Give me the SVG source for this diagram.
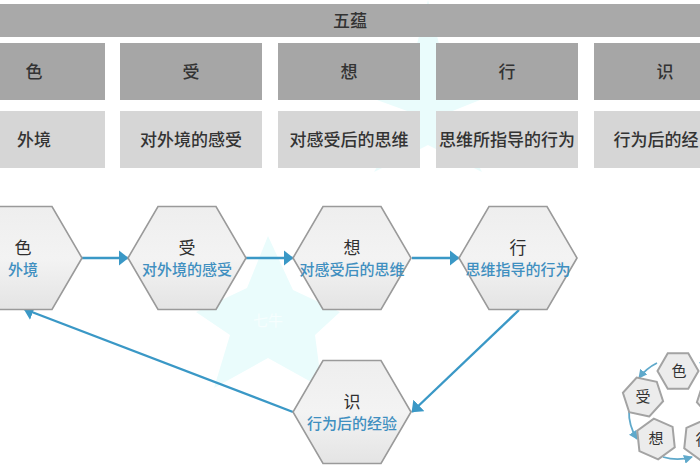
<svg xmlns="http://www.w3.org/2000/svg" width="700" height="470" viewBox="0 0 700 470">
<style>
text{font-family:"Noto Sans CJK SC","Liberation Sans",sans-serif;text-anchor:middle}
.bar{fill:#a9a9a9}
.head{fill:#a6a6a6}
.sub{fill:#d6d6d6}
.t{font-size:17px;font-weight:500;fill:#333}
.hex{fill:url(#g);stroke:#9a9a9a;stroke-width:1.6}
.hs{fill:#ececec;stroke:#a3a3a3;stroke-width:2}
.n{font-size:17px;fill:#2f2f2f}
.d{font-size:15px;font-weight:500;fill:#3f8fc0}
.c{font-size:15px;fill:#333}
.l{fill:none;stroke:#3a98c6;stroke-width:2.4}
.a{fill:none;stroke:#5fa9cb;stroke-width:1.8}
.star{fill:#eafcfc}
.w{font-size:15px;fill:#f6fefe}
</style>
<defs>
<linearGradient id="g" x1="0" y1="0" x2="0" y2="1"><stop offset="0" stop-color="#eeeeee"/><stop offset="0.5" stop-color="#f3f3f3"/><stop offset="1" stop-color="#e4e4e4"/></linearGradient>
<marker id="ah" viewBox="0 0 10 16" markerUnits="userSpaceOnUse" markerWidth="10" markerHeight="16" refX="9.5" refY="8" orient="auto"><path d="M0 0L10 8L0 16Z" fill="#3a98c6"/></marker>
<marker id="as" viewBox="0 0 9 9" markerUnits="userSpaceOnUse" markerWidth="9" markerHeight="9" refX="8" refY="4.5" orient="auto"><path d="M0 0L9 4.5L0 9Z" fill="#5fa9cb"/></marker>
<polygon id="h" points="59,0 29,51.5 -29,51.5 -59,0 -29,-51.5 29,-51.5"/>
<polygon id="s" points="20.5,0 10.25,17.8 -10.25,17.8 -20.5,0 -10.25,-17.8 10.25,-17.8"/>
</defs>
<g id="watermarks">
<polygon class="star" points="268,236 293,290 340,312 315,335 322,388 268,358 214,388 230,335 196,312 247,288"/>
<text class="w" x="268" y="326">七牛</text>
<polygon class="star" points="428,0 448,80 490,96 450,112 482,172 428,145 374,172 410,112 366,96 408,80"/>
</g>
<g id="table">
<rect class="bar" x="0" y="4" width="700" height="33"/>
<text class="t" x="350" y="27">五蕴</text>
<g id="col1"><rect class="head" x="0" y="43" width="105" height="57"/><text class="t" x="34" y="78">色</text><rect class="sub" x="0" y="111" width="105" height="57"/><text class="t" x="34" y="146">外境</text></g>
<g id="col2"><rect class="head" x="120" y="43" width="142" height="57"/><text class="t" x="191" y="78">受</text><rect class="sub" x="120" y="111" width="142" height="57"/><text class="t" x="191" y="146">对外境的感受</text></g>
<g id="col3"><rect class="head" x="278" y="43" width="142" height="57"/><text class="t" x="349" y="78">想</text><rect class="sub" x="278" y="111" width="142" height="57"/><text class="t" x="349" y="146">对感受后的思维</text></g>
<g id="col4"><rect class="head" x="436" y="43" width="142" height="57"/><text class="t" x="507" y="78">行</text><rect class="sub" x="436" y="111" width="142" height="57"/><text class="t" x="507" y="146">思维所指导的行为</text></g>
<g id="col5"><rect class="head" x="594" y="43" width="106" height="57"/><text class="t" x="665" y="78">识</text><rect class="sub" x="594" y="111" width="106" height="57"/><text class="t" x="656" y="146">行为后的经</text></g>
</g>
<g id="connectors">
<line class="l" x1="82" y1="258" x2="128" y2="258" marker-end="url(#ah)"/>
<line class="l" x1="246" y1="258" x2="293" y2="258" marker-end="url(#ah)"/>
<line class="l" x1="412" y1="258" x2="459" y2="258" marker-end="url(#ah)"/>
<line class="l" x1="519" y1="310" x2="412" y2="412" marker-end="url(#ah)"/>
<line class="l" x1="293" y1="412" x2="24" y2="309" marker-end="url(#ah)"/>
</g>
<g id="cycle-connectors">
<path class="a" d="M720 379A50 50 0 0 0 700 362.500" marker-end="url(#as)"/>
<path class="a" d="M657 363A50 50 0 0 0 639 378" marker-end="url(#as)"/>
<path class="a" d="M629 410A50 50 0 0 0 637 439" marker-end="url(#as)"/>
<path class="a" d="M663 457A50 50 0 0 0 692 457" marker-end="url(#as)"/>
</g>
<g id="n-se"><use href="#h" class="hex" transform="translate(23,258)"/><text class="n" x="23" y="254">色</text><text class="d" x="23" y="275">外境</text></g>
<g id="n-shou"><use href="#h" class="hex" transform="translate(187,258)"/><text class="n" x="187" y="254">受</text><text class="d" x="187" y="275">对外境的感受</text></g>
<g id="n-xiang"><use href="#h" class="hex" transform="translate(352,258)"/><text class="n" x="352" y="254">想</text><text class="d" x="352" y="275">对感受后的思维</text></g>
<g id="n-xing"><use href="#h" class="hex" transform="translate(518,258)"/><text class="n" x="518" y="254">行</text><text class="d" x="518" y="275">思维指导的行为</text></g>
<g id="n-shi"><use href="#h" class="hex" transform="translate(352,412)"/><text class="n" x="352" y="408">识</text><text class="d" x="352" y="429">行为后的经验</text></g>
<g id="c-se"><use href="#s" class="hs" transform="translate(678,371)"/><text class="c" x="679" y="376">色</text></g>
<g id="c-shou"><use href="#s" class="hs" transform="translate(643,397) rotate(72)"/><text class="c" x="643" y="402">受</text></g>
<g id="c-xiang"><use href="#s" class="hs" transform="translate(656,439) rotate(144)"/><text class="c" x="656" y="444">想</text></g>
<g id="c-xing"><use href="#s" class="hs" transform="translate(703,440) rotate(216)"/><text class="c" x="703" y="445">行</text></g>
<g id="c-shi"><use href="#s" class="hs" transform="translate(717,398) rotate(288)"/></g>
</svg>
